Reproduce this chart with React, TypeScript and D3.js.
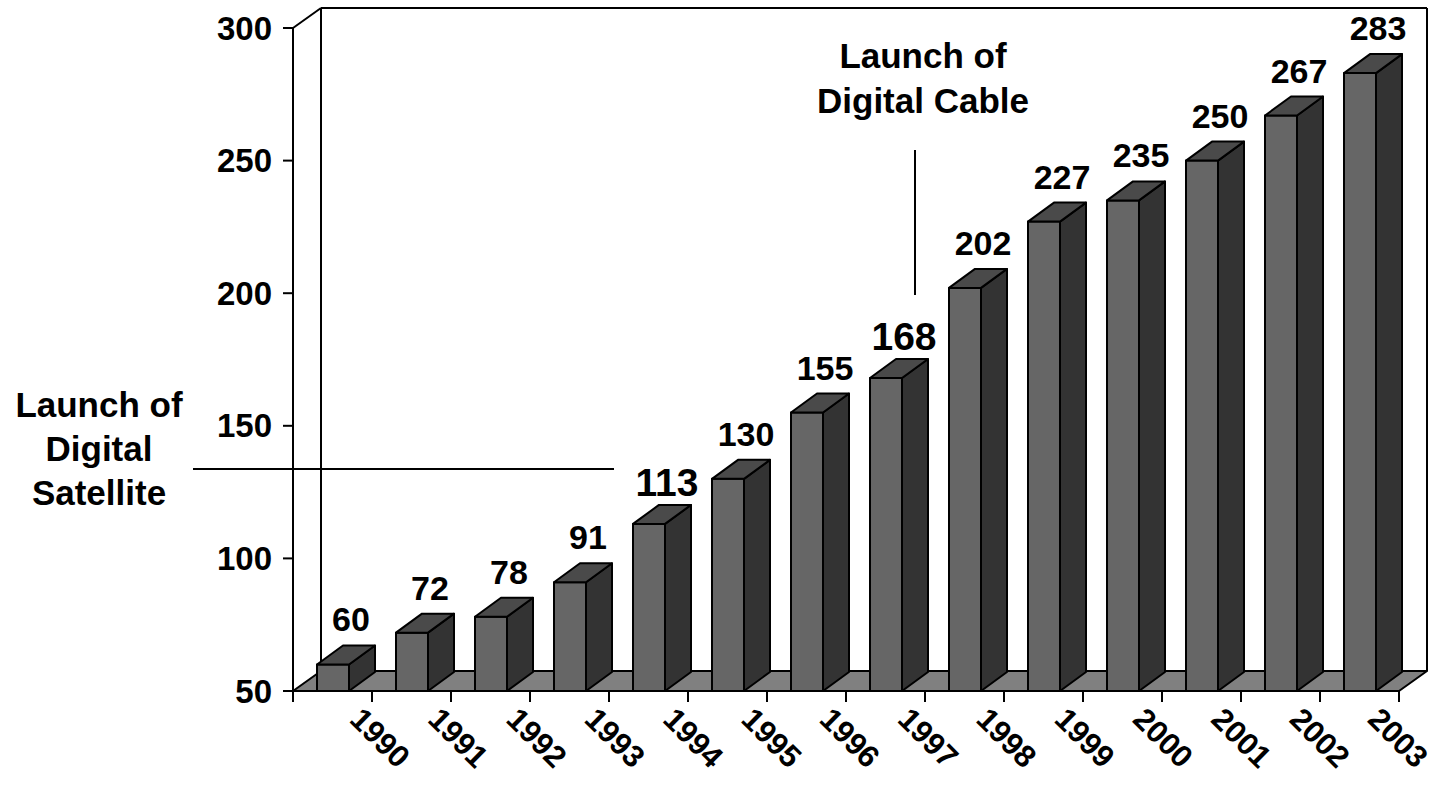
import React from "react";
import * as d3 from "d3";

const years = ["1990","1991","1992","1993","1994","1995","1996","1997","1998","1999","2000","2001","2002","2003"];
const values = [60, 72, 78, 91, 113, 130, 155, 168, 202, 227, 235, 250, 267, 283];
const emphasized = ["1994", "1997"];
const yTicks = [50, 100, 150, 200, 250, 300];
const satelliteNote = ["Launch of", "Digital", "Satellite"];
const cableNote = ["Launch of", "Digital Cable"];

const W = 1435, H = 788;
const FONT = "'Liberation Sans', Arial, sans-serif";

export default function App() {
  const x = d3.scaleBand<string>().domain(years).range([293, 1399]).padding(0);
  const labelX = d3.scalePoint<string>().domain(years).range([380, 1398]);
  const y = d3.scaleLinear().domain([50, 300]).range([691, 28]);
  const wallDx = 28, wallDy = -20;
  const barDx = 26, barDy = -19;
  const barOff = 24, barW = 32;
  const x0 = 293, x1 = 1399;
  const yBase = y(50), yTop = y(300);

  const floor = [
    [x0, yBase], [x1, yBase], [x1 + wallDx, yBase + wallDy], [x0 + wallDx, yBase + wallDy],
  ].map(p => p.join(",")).join(" ");

  const sw = 2;

  return (
    <svg width={W} height={H} style={{ position: "absolute", left: 0, top: 0, background: "#fff" }}
      fontFamily={FONT} fontWeight="bold">
      {/* back wall */}
      <line x1={x0 + wallDx} y1={yTop + wallDy} x2={x0 + wallDx} y2={yBase + wallDy} stroke="#000" strokeWidth={sw} />
      <line x1={x0 + wallDx} y1={yTop + wallDy} x2={x1 + wallDx} y2={yTop + wallDy} stroke="#000" strokeWidth={sw} />
      <line x1={x1 + wallDx} y1={yTop + wallDy} x2={x1 + wallDx} y2={yBase + wallDy} stroke="#000" strokeWidth={sw} />
      <line x1={x0} y1={yTop} x2={x0 + wallDx} y2={yTop + wallDy} stroke="#000" strokeWidth={sw} />
      {/* floor */}
      <polygon points={floor} fill="#808080" stroke="#000" strokeWidth={sw} strokeLinejoin="round" />
      {/* front axis */}
      <line x1={x0} y1={yTop} x2={x0} y2={yBase} stroke="#000" strokeWidth={sw} />
      <line x1={x0 - 10} y1={yBase} x2={x1} y2={yBase} stroke="#000" strokeWidth={sw} />
      {yTicks.map(t => (
        <g key={t}>
          <line x1={x0 - 10} y1={y(t)} x2={x0} y2={y(t)} stroke="#000" strokeWidth={sw} />
          <text x={272} y={y(t) + 11.5} textAnchor="end" fontSize={33}>{t}</text>
        </g>
      ))}
      {/* x ticks */}
      {[...years.map(d => x(d)!), x1].map((xx, i) => (
        <line key={i} x1={xx} y1={yBase} x2={xx} y2={yBase + 11} stroke="#000" strokeWidth={sw} />
      ))}
      {years.map(d => (
        <text key={d} x={0} y={0} textAnchor="middle" dominantBaseline="central" fontSize={31}
          transform={`translate(${labelX(d)},${738}) rotate(45)`}>{d}</text>
      ))}
      {/* bars */}
      {years.map((d, i) => {
        const v = values[i];
        const bx = x(d)! + barOff;
        const yt = y(v);
        const front = `${bx},${yBase} ${bx + barW},${yBase} ${bx + barW},${yt} ${bx},${yt}`;
        const side = `${bx + barW},${yBase} ${bx + barW + barDx},${yBase + barDy} ${bx + barW + barDx},${yt + barDy} ${bx + barW},${yt}`;
        const top = `${bx},${yt} ${bx + barW},${yt} ${bx + barW + barDx},${yt + barDy} ${bx + barDx},${yt + barDy}`;
        const big = emphasized.includes(d);
        return (
          <g key={d}>
            <polygon points={side} fill="#333333" stroke="#000" strokeWidth={sw} strokeLinejoin="round" />
            <polygon points={front} fill="#666666" stroke="#000" strokeWidth={sw} strokeLinejoin="round" />
            <polygon points={top} fill="#4a4a4a" stroke="#000" strokeWidth={sw} strokeLinejoin="round" />
            <text x={bx + barW / 2 + 18} y={yt - (big ? 28 : 33)} textAnchor="middle" fontSize={big ? 39 : 34}>{v}</text>
          </g>
        );
      })}
      {/* annotations */}
      <line x1={193} y1={469} x2={614} y2={469} stroke="#000" strokeWidth={2} />
      {satelliteNote.map((s, i) => (
        <text key={s} x={99} y={417 + i * 44} textAnchor="middle" fontSize={35}>{s}</text>
      ))}
      <line x1={915} y1={150} x2={915} y2={295} stroke="#000" strokeWidth={2} />
      {cableNote.map((s, i) => (
        <text key={s} x={923} y={68 + i * 45} textAnchor="middle" fontSize={35}>{s}</text>
      ))}
    </svg>
  );
}
